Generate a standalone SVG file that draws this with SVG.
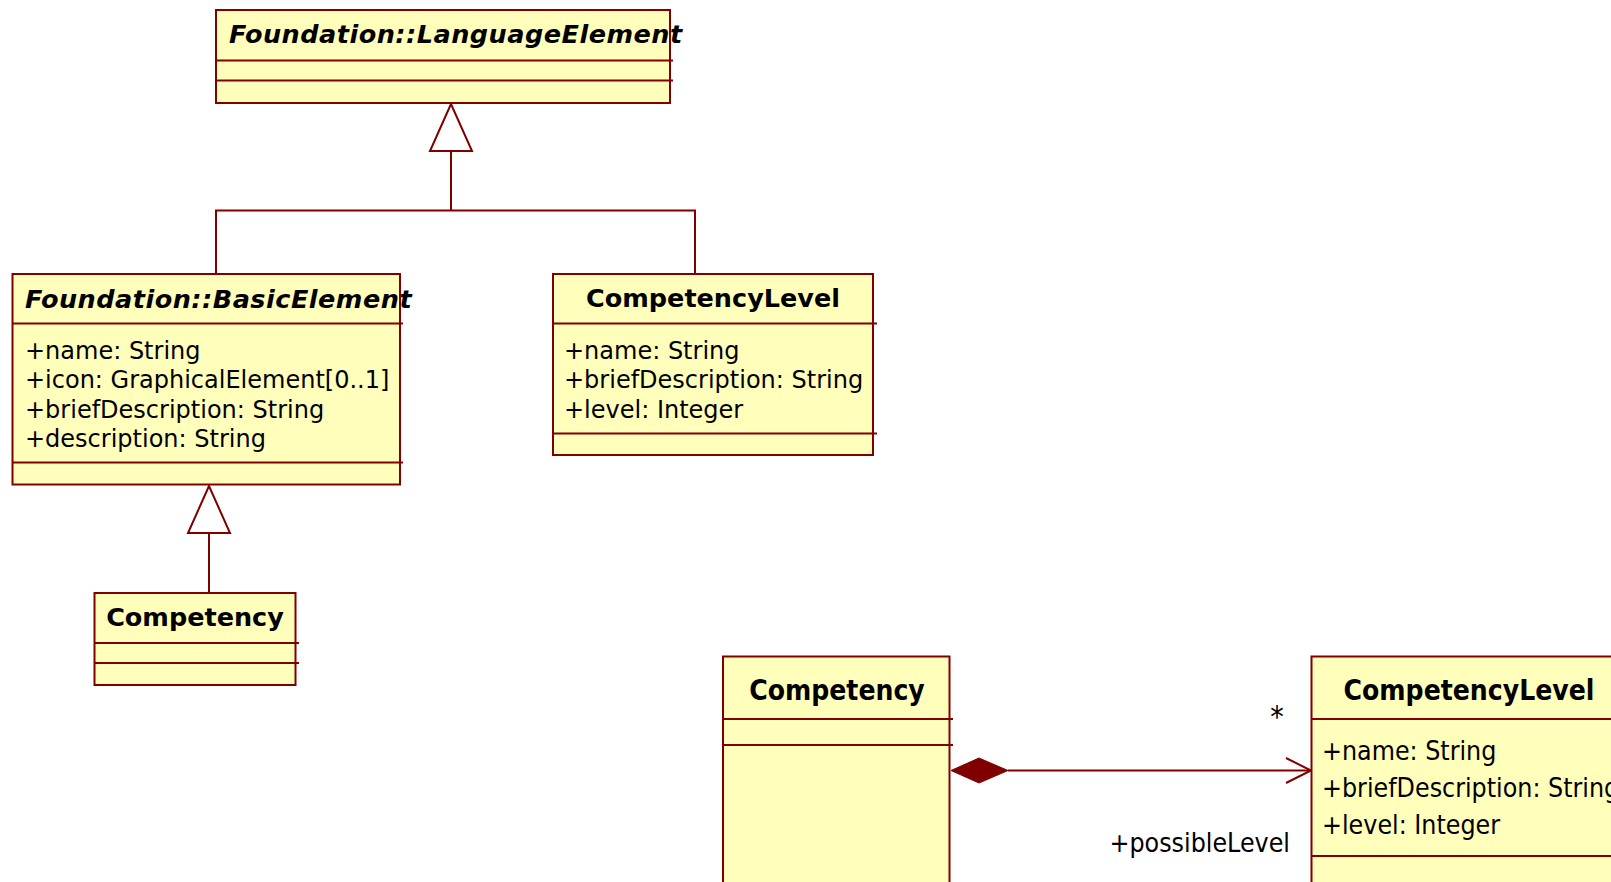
<svg xmlns="http://www.w3.org/2000/svg" width="1611" height="882" viewBox="0 0 1611 882">
  <style>
    .box { fill: #FFFFBB; stroke: #800000; stroke-width: 2; }
    .sep { stroke: #800000; stroke-width: 2; fill: none; }
    .edge { stroke: #800000; stroke-width: 2; fill: none; }
    .hollow { stroke: #800000; stroke-width: 2; fill: #FFFFFF; }
    .solid { stroke: #800000; stroke-width: 1; fill: #800000; }
    .t { font-family: "DejaVu Sans", Verdana, sans-serif; fill: #000000; }
    .title { font-size: 25.5px; font-weight: bold; }
    .abstract { font-style: italic; letter-spacing: 0.5px; }
    .attr { font-size: 24px; }
    .c { font-family: "DejaVu Sans Condensed", "DejaVu Sans", sans-serif; fill: #000000; }
    .ctitle { font-size: 28px; font-weight: bold; }
    .cattr { font-size: 26.5px; }
    .mult { font-size: 30px; }
  </style>

  <rect x="0" y="0" width="1611" height="882" fill="#FFFFFF"/>

  <!-- connectors -->
  <g id="connectors">
    <!-- generalization: BasicElement / CompetencyLevel -> LanguageElement -->
    <path class="edge" d="M216,274 V210.5 H695 V274 M451,210.5 V151"/>
    <polygon class="hollow" points="451,104 430,151 472,151"/>
    <!-- generalization: Competency -> BasicElement -->
    <path class="edge" d="M209,593 V533"/>
    <polygon class="hollow" points="209,486 188,533 230,533"/>
    <!-- composition: Competency -> CompetencyLevel -->
    <path class="edge" d="M1008,770.5 H1310"/>
    <polygon class="solid" points="951,770.5 979,758 1008,770.5 979,783"/>
    <path class="edge" d="M1286,758 L1311,770.5 L1286,783"/>
    <text class="c mult" x="1277" y="727" text-anchor="middle">*</text>
    <text class="c cattr" x="1290" y="852" text-anchor="end">+possibleLevel</text>
  </g>

  <!-- Foundation::LanguageElement -->
  <g id="languageElement">
    <rect class="box" x="216" y="10" width="454" height="93"/>
    <path class="sep" d="M216,60.5 H673 M216,80.5 H673"/>
    <text class="t title abstract" x="229" y="43">Foundation::LanguageElement</text>
  </g>

  <!-- Foundation::BasicElement -->
  <g id="basicElement">
    <rect class="box" x="12.5" y="274" width="387.5" height="210.5"/>
    <path class="sep" d="M12.5,323.5 H403 M12.5,462.5 H403"/>
    <text class="t title abstract" x="25" y="308">Foundation::BasicElement</text>
    <text class="t attr" x="25" y="359">+name: String</text>
    <text class="t attr" x="25" y="388.3">+icon: GraphicalElement[0..1]</text>
    <text class="t attr" x="25" y="417.6">+briefDescription: String</text>
    <text class="t attr" x="25" y="447">+description: String</text>
  </g>

  <!-- CompetencyLevel (generalization view) -->
  <g id="competencyLevel">
    <rect class="box" x="553" y="274" width="320" height="181"/>
    <path class="sep" d="M553,323.5 H877 M553,433.5 H877"/>
    <text class="t title" x="713" y="307" text-anchor="middle">CompetencyLevel</text>
    <text class="t attr" x="564" y="359">+name: String</text>
    <text class="t attr" x="564" y="388.3">+briefDescription: String</text>
    <text class="t attr" x="564" y="417.6">+level: Integer</text>
  </g>

  <!-- Competency (generalization view) -->
  <g id="competency">
    <rect class="box" x="94.5" y="593" width="201" height="92"/>
    <path class="sep" d="M94.5,643 H299 M94.5,663 H299"/>
    <text class="t title" x="195" y="626" text-anchor="middle">Competency</text>
  </g>

  <!-- Competency (composition view) -->
  <g id="competencyComposite">
    <rect class="box" x="723" y="656.5" width="226.5" height="240"/>
    <path class="sep" d="M723,719 H953 M723,745 H953"/>
    <text class="c ctitle" x="837" y="700" text-anchor="middle">Competency</text>
  </g>

  <!-- CompetencyLevel (composition view) -->
  <g id="competencyLevelPart">
    <rect class="box" x="1311.5" y="656.5" width="320" height="240"/>
    <path class="sep" d="M1311.5,719 H1640 M1311.5,856 H1640"/>
    <text class="c ctitle" x="1469" y="700" text-anchor="middle">CompetencyLevel</text>
    <text class="c cattr" x="1322" y="760">+name: String</text>
    <text class="c cattr" x="1322" y="797">+briefDescription: String</text>
    <text class="c cattr" x="1322" y="834">+level: Integer</text>
  </g>
</svg>
